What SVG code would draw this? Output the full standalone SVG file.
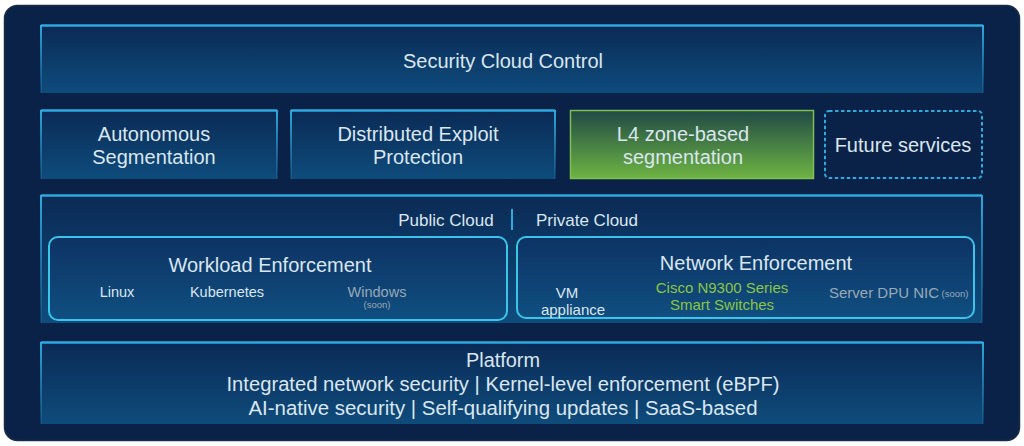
<svg xmlns="http://www.w3.org/2000/svg" width="1024" height="446" viewBox="0 0 1024 446">
<defs>
<linearGradient id="gBlue" x1="0" y1="0" x2="0" y2="1">
<stop offset="0" stop-color="#0b2a55"/>
<stop offset="1" stop-color="#0e4c7c"/>
</linearGradient>
<linearGradient id="gGreen" x1="0" y1="0" x2="0" y2="1">
<stop offset="0" stop-color="#214a45"/>
<stop offset="1" stop-color="#6db443"/>
</linearGradient>
<linearGradient id="gInner" x1="0" y1="0" x2="0" y2="1">
<stop offset="0" stop-color="#0d3364"/>
<stop offset="1" stop-color="#0f4f80"/>
</linearGradient>
<linearGradient id="gEdge" x1="0" y1="0" x2="0" y2="1">
<stop offset="0" stop-color="#2fa9e0"/>
<stop offset="1" stop-color="#2fa9e0" stop-opacity="0.15"/>
</linearGradient>
</defs>
<style>
text{font-family:"Liberation Sans",Arial,sans-serif;fill:#dae6f0;text-anchor:middle}
.t20{font-size:20px}
.t17{font-size:17px}
.t15{font-size:15px}
.t14{font-size:14.5px}
.gray{fill:#9aa8b6}
.grn{fill:#8cc541}
.sm{font-size:9.5px}
.band{fill:url(#gBlue)}
.edge{fill:none;stroke:url(#gEdge);stroke-width:2}
.top{stroke:#2fa9e0;stroke-width:2.5}
.inner{fill:url(#gInner);stroke:#3cc3ea;stroke-width:2}
</style>
<rect x="0" y="0" width="1024" height="446" fill="#ffffff"/>
<rect x="4.5" y="5.5" width="1015" height="435" rx="13" fill="#0b2248" stroke="#1a2c44" stroke-width="1.5"/>

<g id="security-cloud-control">
<rect class="band" x="41" y="25" width="942" height="68"/>
<path class="edge" d="M41,93 V25 M983,25 V93"/>
<line class="top" x1="41" y1="25.5" x2="983" y2="25.5"/>
<text class="t20" x="503" y="68" textLength="200" lengthAdjust="spacingAndGlyphs">Security Cloud Control</text>
</g>

<g id="autonomous-segmentation">
<rect class="band" x="41" y="110" width="236" height="69"/>
<path class="edge" d="M41,179 V110 M277,110 V179"/>
<line class="top" x1="41" y1="110.5" x2="277" y2="110.5"/>
<text class="t20" x="154" y="141">Autonomous</text>
<text class="t20" x="154" y="164">Segmentation</text>
</g>

<g id="distributed-exploit-protection">
<rect class="band" x="291" y="110" width="264" height="69"/>
<path class="edge" d="M291,179 V110 M555,110 V179"/>
<line class="top" x1="291" y1="110.5" x2="555" y2="110.5"/>
<text class="t20" x="418" y="141">Distributed Exploit</text>
<text class="t20" x="418" y="164">Protection</text>
</g>

<g id="l4-zone-based-segmentation">
<rect x="570.5" y="110.5" width="243" height="68" fill="url(#gGreen)" stroke="#7fbf52" stroke-width="1.5"/>
<text class="t20" x="683" y="141">L4 zone-based</text>
<text class="t20" x="683" y="164">segmentation</text>
</g>

<g id="future-services">
<rect x="825" y="111" width="157" height="67" rx="4" fill="none" stroke="#2fa9e0" stroke-width="2" stroke-dasharray="3.5,2.5"/>
<text class="t20" x="903" y="152">Future services</text>
</g>

<g id="cloud-container">
<rect class="band" x="41" y="195" width="941" height="128"/>
<path class="edge" d="M41,323 V195 M982,195 V323"/>
<line class="top" x1="41" y1="195.5" x2="982" y2="195.5"/>
<text class="t17" x="446" y="226">Public Cloud</text>
<line x1="512" y1="209" x2="512" y2="230" stroke="#2fa9e0" stroke-width="2"/>
<text class="t17" x="587" y="226">Private Cloud</text>
</g>

<g id="workload-enforcement">
<rect class="inner" x="49" y="237" width="458" height="83" rx="9"/>
<text class="t20" x="270" y="272">Workload Enforcement</text>
<text class="t14" x="117" y="297">Linux</text>
<text class="t14" x="227" y="297">Kubernetes</text>
<text class="t14 gray" x="377" y="297">Windows</text>
<text class="sm gray" x="377" y="308">(soon)</text>
</g>

<g id="network-enforcement">
<rect class="inner" x="517" y="237" width="457" height="81" rx="9"/>
<text class="t20" x="756" y="270">Network Enforcement</text>
<text class="t15" x="567" y="298">VM</text>
<text class="t15" x="573" y="315">appliance</text>
<text class="t15 grn" x="722" y="293">Cisco N9300 Series</text>
<text class="t15 grn" x="722" y="310">Smart Switches</text>
<text class="t15 gray" x="884" y="298">Server DPU NIC</text>
<text class="sm gray" x="955" y="297">(soon)</text>
</g>

<g id="platform">
<rect class="band" x="41" y="342" width="942" height="82"/>
<path class="edge" d="M41,424 V342 M983,342 V424"/>
<line class="top" x1="41" y1="342.5" x2="983" y2="342.5"/>
<text class="t20" x="503" y="367" textLength="74" lengthAdjust="spacingAndGlyphs">Platform</text>
<text class="t20" x="503" y="391" textLength="553" lengthAdjust="spacingAndGlyphs">Integrated network security | Kernel-level enforcement (eBPF)</text>
<text class="t20" x="503" y="415" textLength="509" lengthAdjust="spacingAndGlyphs">AI-native security | Self-qualifying updates | SaaS-based</text>
</g>

<g id="connectors"></g>
</svg>
